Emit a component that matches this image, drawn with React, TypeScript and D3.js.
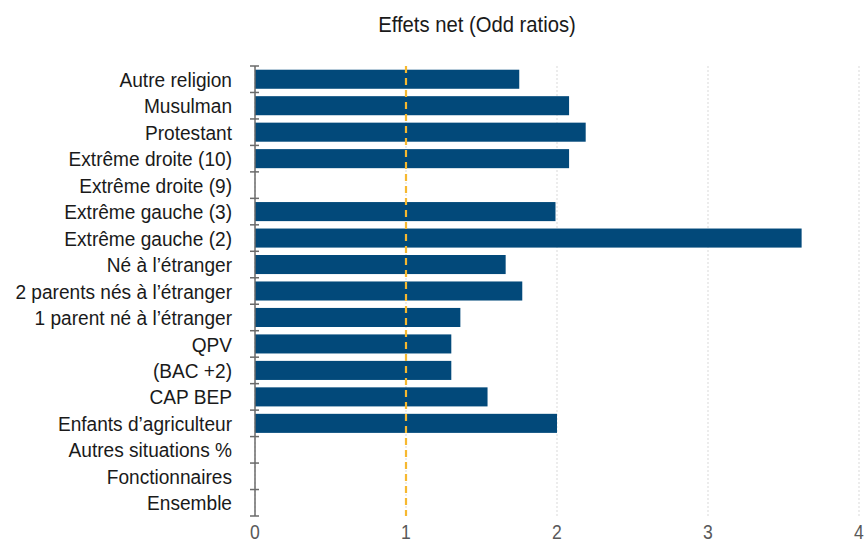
import React from "react";
import * as d3 from "d3";

const categories = [
  "Autre religion",
  "Musulman",
  "Protestant",
  "Extrême droite (10)",
  "Extrême droite (9)",
  "Extrême gauche (3)",
  "Extrême gauche (2)",
  "Né à l’étranger",
  "2 parents nés à l’étranger",
  "1 parent né à l’étranger",
  "QPV",
  "(BAC +2)",
  "CAP BEP",
  "Enfants d’agriculteur",
  "Autres situations %",
  "Fonctionnaires",
  "Ensemble",
];
const values: (number | null)[] = [
  1.75, 2.08, 2.19, 2.08, null, 1.99, 3.62, 1.66, 1.77, 1.36, 1.3, 1.3, 1.54, 2.0, null, null, null,
];
const xTicks = [0, 1, 2, 3, 4];
const refValue = 1;
const title = "Effets net (Odd ratios)";

const W = 865;
const H = 541;
const FONT = "'Liberation Sans Narrow', 'Arial Narrow', 'Liberation Sans', sans-serif";

function NText(props: { x: number; y: number; size: number; anchor: string; fill: string; children: React.ReactNode; dy?: string; sx?: number }) {
  const sx = props.sx ?? 0.88;
  return (
    <g transform={`translate(${props.x},${props.y}) scale(${sx},1)`}>
      <text x={0} y={0} dy={props.dy} textAnchor={props.anchor as any} fontSize={props.size} fill={props.fill}>
        {props.children}
      </text>
    </g>
  );
}

export default function App() {
  const x = d3.scaleLinear().domain([0, 4]).range([255, 859]);
  const y = d3.scaleBand<string>().domain(categories).range([66, 516]).paddingInner(0.28).paddingOuter(0.14);
  const step = y.step();
  const tickYs = d3.range(categories.length + 1).map((i) => 66 + i * step);

  return (
    <svg
      width={W}
      height={H}
      style={{ position: "absolute", left: 0, top: 0, background: "#fff" }}
      fontFamily={FONT}
    >
      <NText x={477} y={32} size={22.5} anchor="middle" fill="#1a1a1a" sx={0.9}>
        {title}
      </NText>
      {xTicks.map((t) => (
        <line
          key={"g" + t}
          x1={x(t)}
          x2={x(t)}
          y1={66}
          y2={516}
          stroke="#d9d9d9"
          strokeWidth={1}
          strokeDasharray="2,2"
        />
      ))}
      {categories.map((c, i) =>
        values[i] == null ? null : (
          <rect
            key={c}
            x={x(0)}
            y={y(c)!}
            width={x(values[i] as number) - x(0)}
            height={y.bandwidth()}
            fill="#02497a"
          />
        )
      )}
      <line x1={x(refValue)} x2={x(refValue)} y1={66} y2={516} stroke="#f6b830" strokeWidth={2.2} strokeDasharray="7,5" />
      <line x1={x(0)} x2={x(0)} y1={66} y2={516} stroke="#6b6b6b" strokeWidth={1.5} />
      {tickYs.map((ty, i) => (
        <line key={"t" + i} x1={x(0) - 5} x2={x(0) + 4} y1={ty} y2={ty} stroke="#6b6b6b" strokeWidth={1.5} />
      ))}
      {categories.map((c) => (
        <NText
          key={"l" + c}
          x={232}
          y={y(c)! + y.bandwidth() / 2}
          dy="0.36em"
          anchor="end"
          size={21}
          fill="#1a1a1a"
          sx={0.91}
        >
          {c}
        </NText>
      ))}
      {xTicks.map((t) => (
        <NText key={"x" + t} x={x(t)} y={539} anchor="middle" size={20} fill="#595959">
          {t}
        </NText>
      ))}
    </svg>
  );
}
